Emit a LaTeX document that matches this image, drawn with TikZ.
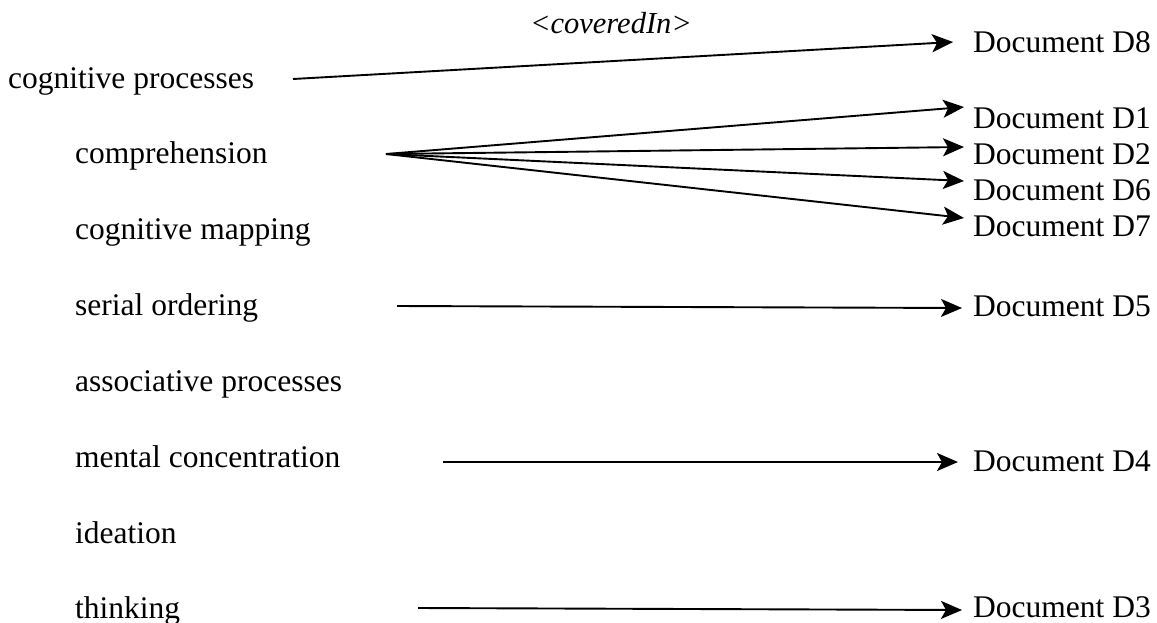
\documentclass[tikz,border=0pt]{standalone}
\usepackage{fontspec}
\setmainfont{Liberation Serif}
\usetikzlibrary{arrows.meta}
\begin{document}
\begin{tikzpicture}[x=1pt,y=-1pt,
  term/.style={anchor=base west, inner sep=0pt, font=\fontsize{31.5}{38}\selectfont},
  link/.style={line width=1.9pt, -{Stealth[length=21pt,width=18pt,inset=5pt]}}]
  \useasboundingbox (0,0) rectangle (1157,622);

  % relation name
  \node[term, anchor=base, font=\fontsize{30.5}{36}\selectfont\itshape] (rel) at (611,33) {<coveredIn>};

  % concept hierarchy
  \node[term] (cp)   at (8,88)   {cognitive processes};
  \node[term] (comp) at (75,163) {comprehension};
  \node[term] (cmap) at (75,239) {cognitive mapping};
  \node[term] (ser)  at (75,315) {serial ordering};
  \node[term] (assoc) at (75,391) {associative processes};
  \node[term] (ment) at (75,467) {mental concentration};
  \node[term] (idea) at (75,543) {ideation};
  \node[term] (think) at (75,618) {thinking};

  % documents
  \node[term] (d8) at (973,52)  {Document D8};
  \node[term] (d1) at (973,128) {Document D1};
  \node[term] (d2) at (973,164) {Document D2};
  \node[term] (d6) at (973,200) {Document D6};
  \node[term] (d7) at (973,236) {Document D7};
  \node[term] (d5) at (973,316) {Document D5};
  \node[term] (d4) at (973,471) {Document D4};
  \node[term] (d3) at (973,617) {Document D3};

  % connector ends
  \coordinate (sCp)    at (293,79);
  \coordinate (sComp)  at (386,154);
  \coordinate (sSer)   at (397,306);
  \coordinate (sMent)  at (443,462);
  \coordinate (sThink) at (418,608);
  \coordinate (t8) at (953,42);
  \coordinate (t1) at (964,107);
  \coordinate (t2) at (964,147);
  \coordinate (t6) at (964,181);
  \coordinate (t7) at (964,218);
  \coordinate (t5) at (962,308);
  \coordinate (t4) at (958,462);
  \coordinate (t3) at (962,610);

  \draw[link] (sCp) -- (t8);
  \draw[link] (sComp) -- (t1);
  \draw[link] (sComp) -- (t2);
  \draw[link] (sComp) -- (t6);
  \draw[link] (sComp) -- (t7);
  \draw[link] (sSer) -- (t5);
  \draw[link] (sMent) -- (t4);
  \draw[link] (sThink) -- (t3);
\end{tikzpicture}
\end{document}
